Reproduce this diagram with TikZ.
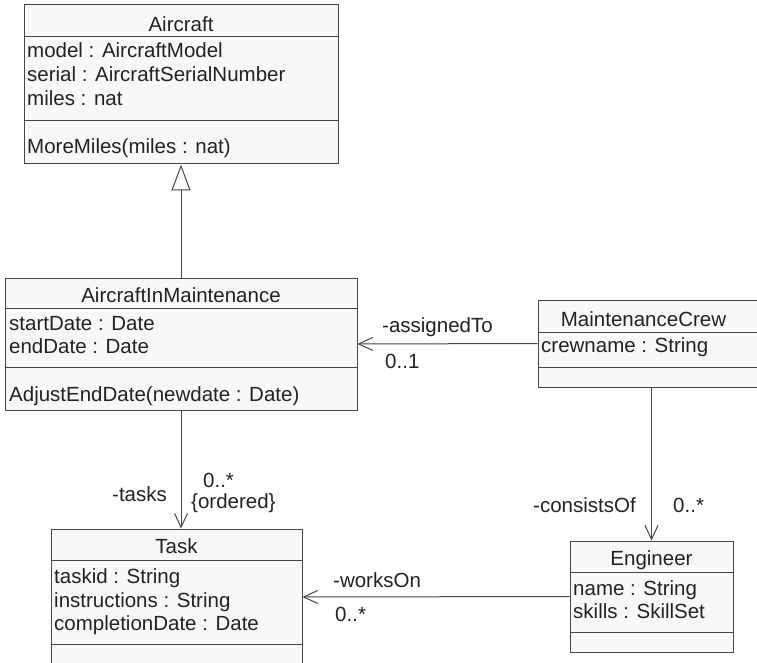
\documentclass[tikz,border=0pt]{standalone}
\usepackage{fontspec}
\setmainfont{Liberation Sans}
\usetikzlibrary{arrows.meta}

\definecolor{boxfill}{HTML}{F8F8F8}
\definecolor{boxline}{HTML}{464646}
\definecolor{umltext}{HTML}{222222}

\tikzset{
  umlbox/.style={draw=boxline, fill=boxfill, line width=1pt, inner sep=0pt},
  umlline/.style={draw=boxline, line width=1pt},
  umltitle/.style={anchor=base, inner sep=0pt, text=umltext},
  umlattr/.style={anchor=base west, inner sep=0pt, text=umltext},
  rolelabel/.style={anchor=base west, inner sep=0pt, text=umltext},
  assoc/.style={draw=boxline, line width=1pt, -{Straight Barb[length=14pt,width=13pt]}},
  generalize/.style={draw=boxline, line width=1pt, -{Triangle[open,length=26pt,width=19pt,fill=white]}}
}

\begin{document}
\begin{tikzpicture}[x=1pt,y=-1pt,font=\fontsize{20.5}{24}\selectfont]
      \clip (0,0) rectangle (757,663);
      \fill[white] (0,0) rectangle (757,663);
      %classes
      \node[umlbox, minimum width=314pt, minimum height=159pt] (aircraft) at (181,84.5) {};
      \node[umlbox, minimum width=352pt, minimum height=132pt] (aim) at (181,344) {};
      \node[umlbox, minimum width=224pt, minimum height=87pt] (crew) at (650,343.5) {};
      \node[umlbox, minimum width=163pt, minimum height=111pt] (eng) at (651.5,596.5) {};
      \node[umlbox, minimum width=251pt, minimum height=136pt] (task) at (176.5,597) {};
      %compartments
      \draw[umlline] ([yshift=-32pt]aircraft.north west) -- ([yshift=-32pt]aircraft.north east);
      \draw[umlline] ([yshift=-116pt]aircraft.north west) -- ([yshift=-116pt]aircraft.north east);
      \draw[umlline] ([yshift=-31pt]aim.north west) -- ([yshift=-31pt]aim.north east);
      \draw[umlline] ([yshift=-90pt]aim.north west) -- ([yshift=-90pt]aim.north east);
      \draw[umlline] ([yshift=-33pt]crew.north west) -- ([yshift=-33pt]crew.north east);
      \draw[umlline] ([yshift=-68pt]crew.north west) -- ([yshift=-68pt]crew.north east);
      \draw[umlline] ([yshift=-32pt]eng.north west) -- ([yshift=-32pt]eng.north east);
      \draw[umlline] ([yshift=-92pt]eng.north west) -- ([yshift=-92pt]eng.north east);
      \draw[umlline] ([yshift=-32pt]task.north west) -- ([yshift=-32pt]task.north east);
      \draw[umlline] ([yshift=-116pt]task.north west) -- ([yshift=-116pt]task.north east);
      %texts
      \node[umltitle] (aircraftName) at (181,32) {Aircraft};
      \node[umlattr] (aircraftModel) at (27,58) {model : AircraftModel};
      \node[umlattr] (aircraftSerial) at (27,82) {serial : AircraftSerialNumber};
      \node[umlattr] (aircraftMiles) at (27,106) {miles : nat};
      \node[umlattr] (aircraftOp) at (27,154) {MoreMiles(miles : nat)};
      \node[umltitle] (aimName) at (181,302) {AircraftInMaintenance};
      \node[umlattr] (aimStart) at (9,330) {startDate : Date};
      \node[umlattr] (aimEnd) at (9,353) {endDate : Date};
      \node[umlattr] (aimOp) at (9,401) {AdjustEndDate(newdate : Date)};
      \node[umltitle] (crewName) at (643.5,326) {MaintenanceCrew};
      \node[umlattr] (crewAttr) at (541,352) {crewname : String};
      \node[umltitle] (engName) at (651.5,565) {Engineer};
      \node[umlattr] (engAttrName) at (573,595) {name : String};
      \node[umlattr] (engSkills) at (573,618) {skills : SkillSet};
      \node[umltitle] (taskName) at (176.5,553) {Task};
      \node[umlattr] (taskId) at (54,583) {taskid : String};
      \node[umlattr] (taskInstr) at (54,607) {instructions : String};
      \node[umlattr] (taskDate) at (54,630) {completionDate : Date};
      %connectors
      \draw[generalize] (aim.north) -- (aim.north |- aircraft.south);
      \draw[assoc] (crew.west) -- (aim.east);
      \draw[assoc] (aim.south) -- (aim.south |- task.north);
      \draw[assoc] (eng.north |- crew.south) -- (eng.north);
      \draw[assoc] (eng.west) -- (task.east);
      %roles
      \node[rolelabel] (assignedRole) at (382,332) {-assignedTo};
      \node[rolelabel] (assignedMult) at (385,368) {0..1};
      \node[rolelabel] (tasksRole) at (112,501) {-tasks};
      \node[rolelabel] (tasksMult) at (203,487) {0..*};
      \node[rolelabel] (tasksOrder) at (191,508) {\{ordered\}};
      \node[rolelabel] (consistsRole) at (533,512) {-consistsOf};
      \node[rolelabel] (consistsMult) at (673,512) {0..*};
      \node[rolelabel] (worksRole) at (333,587) {-worksOn};
      \node[rolelabel] (worksMult) at (335,621) {0..*};
\end{tikzpicture}
\end{document}
